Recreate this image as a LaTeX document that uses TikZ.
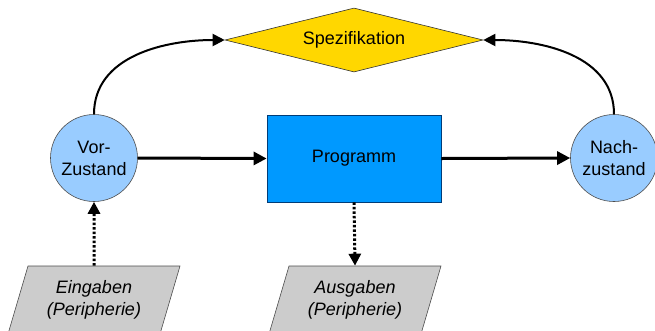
\documentclass[tikz,border=0pt]{standalone}
\usepackage{fontspec}
\setmainfont{Liberation Sans}
\usetikzlibrary{shapes.geometric,arrows.meta}
\definecolor{specfill}{RGB}{255,215,0}
\definecolor{statefill}{RGB}{153,204,255}
\definecolor{progfill}{RGB}{0,153,255}
\definecolor{progline}{RGB}{0,60,120}
\definecolor{iofill}{RGB}{204,204,204}
\tikzset{
  base/.style={font=\fontsize{18}{22}\selectfont, align=center, inner sep=0pt},
  spec/.style={base, diamond, aspect=4.03, minimum width=258pt, minimum height=64pt, fill=specfill, draw=black!80, line width=0.6pt},
  state/.style={base, circle, minimum size=87pt, fill=statefill, draw=black!70, line width=0.6pt},
  prog/.style={base, rectangle, minimum width=174pt, minimum height=87pt, fill=progfill, draw=progline, line width=0.8pt},
  io/.style={base, trapezium, trapezium left angle=62.7, trapezium right angle=117.3, trapezium stretches body=true, minimum width=172pt, minimum height=68pt, fill=iofill, draw=black!70, line width=0.6pt, font=\fontsize{18}{22}\selectfont\itshape},
  thickarrow/.style={line width=3pt, -{Triangle[length=13pt,width=13pt]}},
  curvearrow/.style={line width=2pt, -{Triangle[length=12pt,width=12pt]}},
  dotarrow/.style={line width=3pt, dash pattern=on 2.5pt off 2pt, -{Triangle[length=12pt,width=12pt]}},
}
\begin{document}
\begin{tikzpicture}[x=1pt,y=-1pt]
\useasboundingbox (0,0) rectangle (655,330);
\node[spec] (spec) at (354,40) {Spezifikation};
\node[state] (vor) at (94,158) {Vor-\\Zustand};
\node[state] (nach) at (614,158) {Nach-\\zustand};
\node[prog] (prog) at (354,158.5) {Programm};
\node[io] (ein) at (94,300) {Eingaben\\(Peripherie)};
\node[io] (aus) at (355,300) {Ausgaben\\(Peripherie)};
\draw[thickarrow] (vor.east) -- (prog.west);
\draw[thickarrow] (prog.east) -- (nach.west);
\draw[curvearrow] (vor.north) to[out=90,in=180] (spec.west);
\draw[curvearrow] (nach.north) to[out=90,in=0] (spec.east);
\draw[dotarrow] (ein.north) -- (vor.south);
\draw[dotarrow] (prog.south) -- (aus.north);
\end{tikzpicture}
\end{document}
